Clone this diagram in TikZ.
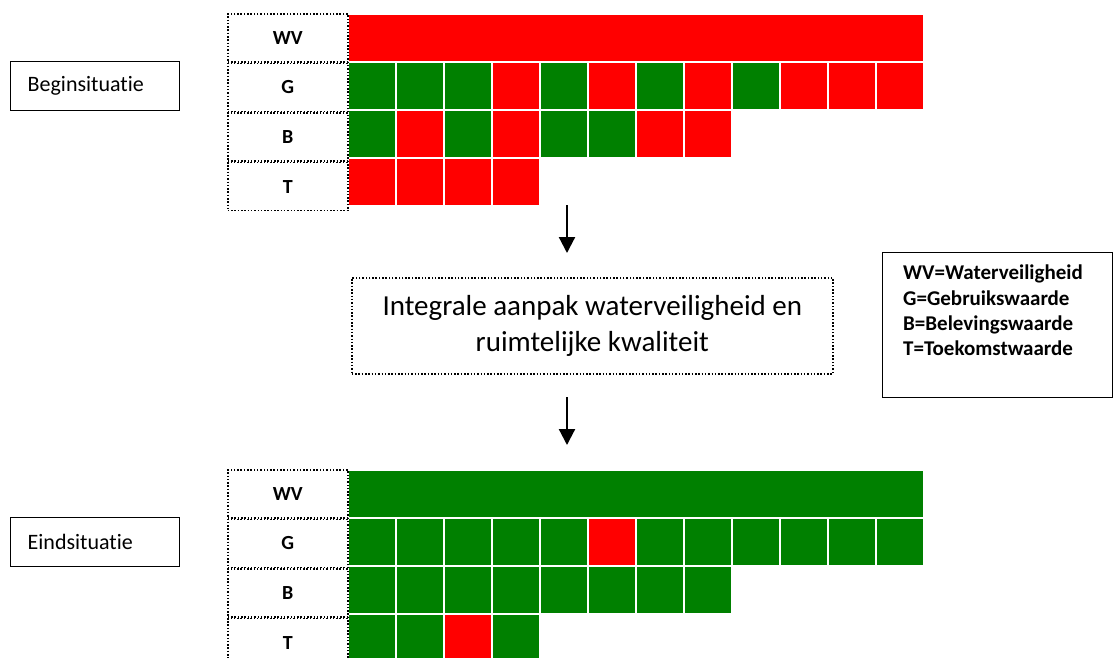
\documentclass[tikz,border=0pt]{standalone}
\usepackage{fontspec}
\setmainfont{Carlito}[Ligatures=NoCommon]
\usetikzlibrary{positioning,arrows.meta}
\definecolor{rood}{RGB}{255,0,0}
\definecolor{groen}{RGB}{0,128,0}

\begin{document}
\begin{tikzpicture}[x=1pt,y=-1pt,
		stippel/.style={draw, line width=1.6pt, dash pattern=on 1.5pt off 1.8pt},
		cel/.style={draw=white, line width=2pt, minimum width=48pt, minimum height=48pt, inner sep=0pt, anchor=north west},
		lab/.style={stippel, minimum width=120pt, minimum height=48pt, inner sep=0pt, anchor=north west, font=\fontsize{20}{24}\selectfont\bfseries},
		sit/.style={draw, line width=1.4pt, text width=135pt, inner xsep=17pt, minimum height=49pt, align=left, anchor=north west, font=\fontsize{22}{26}\selectfont},
		pijl/.style={line width=2.2pt, -{Triangle[length=16pt,width=16pt]}}]
	\useasboundingbox (0,0) rectangle (1114,657);

	% beginsituatie
	\node [cel, fill=rood, minimum width=576pt] (bwvbalk) at (347,13) {};
	\foreach \c [count=\i from 0] in {groen,groen,groen,rood,groen,rood,groen,rood,groen,rood,rood,rood}
		\node [cel, fill=\c] (bg\i) at (347+48*\i,61) {};
	\foreach \c [count=\i from 0] in {groen,rood,groen,rood,groen,groen,rood,rood}
		\node [cel, fill=\c] (bb\i) at (347+48*\i,109) {};
	\foreach \c [count=\i from 0] in {rood,rood,rood,rood}
		\node [cel, fill=\c] (bt\i) at (347+48*\i,157) {};
	\node [lab] (bwv) at (227,13) {WV};
	\node [lab, below=0pt of bwv] (bgl) {G};
	\node [lab, below=0pt of bgl] (bbl) {B};
	\node [lab, below=0pt of bbl] (btl) {T};
	\node [sit] (begin) at (10,61) {Beginsituat\kern0pt ie};

	% eindsituatie
	\node [cel, fill=groen, minimum width=576pt] (ewvbalk) at (347,469) {};
	\foreach \c [count=\i from 0] in {groen,groen,groen,groen,groen,rood,groen,groen,groen,groen,groen,groen}
		\node [cel, fill=\c] (eg\i) at (347+48*\i,517) {};
	\foreach \c [count=\i from 0] in {groen,groen,groen,groen,groen,groen,groen,groen}
		\node [cel, fill=\c] (eb\i) at (347+48*\i,565) {};
	\foreach \c [count=\i from 0] in {groen,groen,rood,groen}
		\node [cel, fill=\c] (et\i) at (347+48*\i,613) {};
	\node [lab] (ewv) at (227,469) {WV};
	\node [lab, below=0pt of ewv] (egl) {G};
	\node [lab, below=0pt of egl] (ebl) {B};
	\node [lab, below=0pt of ebl] (etl) {T};
	\node [sit] (eind) at (10,517) {Eindsituat\kern0pt ie};

	% aanpak
	\node [stippel, minimum width=481pt, minimum height=96pt, anchor=north west, align=center, font=\fontsize{29}{35.5}\selectfont] (aanpak) at (351,277) {Integrale aanpak waterveiligheid en\\ruimtelijke kwaliteit};

	% legenda
	\node [draw, line width=1.4pt, minimum width=230pt, minimum height=145pt, anchor=north west] (legenda) at (882,252) {};
	\node [anchor=north west, inner sep=0pt, align=left, font=\fontsize{21}{25.3}\selectfont\bfseries, below right=13pt and 21pt of legenda.north west] (legtekst) {WV=Waterveiligheid\\G=Gebruikswaarde\\B=Belevingswaarde\\T=Toekomstwaarde};

	\coordinate (p1a) at (567,205);
	\coordinate (p1b) at (567,253);
	\coordinate (p2a) at (567,397);
	\coordinate (p2b) at (567,445);
	\draw [pijl] (p1a) -- (p1b);
	\draw [pijl] (p2a) -- (p2b);
\end{tikzpicture}
\end{document}
